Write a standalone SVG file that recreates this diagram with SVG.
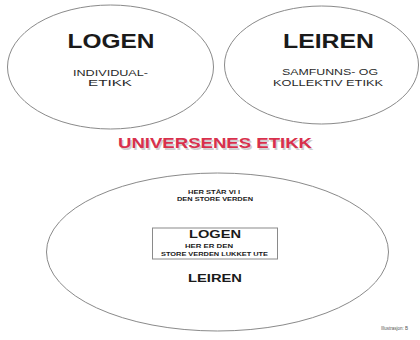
<svg xmlns="http://www.w3.org/2000/svg" width="420" height="340" viewBox="0 0 420 340">
<style>
.ell{fill:none;stroke:#8a8a8a;stroke-width:1}
.t{font-family:"Liberation Sans",Arial,sans-serif;font-weight:bold;fill:#1a1a1a;text-anchor:middle}
.s{font-family:"Liberation Sans",Arial,sans-serif;fill:#2a2a2a;text-anchor:middle}
.red{font-family:"Liberation Sans",Arial,sans-serif;font-weight:bold;fill:#d8304c;text-anchor:middle}
</style>
<rect width="420" height="340" fill="#ffffff"/>
<g id="logen">
<ellipse class="ell" cx="110.5" cy="67" rx="103" ry="62"/>
<text class="t" x="111" y="48" font-size="19.5" textLength="87" lengthAdjust="spacingAndGlyphs">LOGEN</text>
<text class="s" x="110.5" y="75.5" font-size="9.5" textLength="75" lengthAdjust="spacingAndGlyphs">INDIVIDUAL-</text>
<text class="s" x="110" y="86" font-size="9.5" textLength="44" lengthAdjust="spacingAndGlyphs">ETIKK</text>
</g>
<g id="leiren">
<ellipse class="ell" cx="321.5" cy="65" rx="97" ry="59"/>
<text class="t" x="328.5" y="48" font-size="19.5" textLength="91" lengthAdjust="spacingAndGlyphs">LEIREN</text>
<text class="s" x="330" y="74.5" font-size="9.5" textLength="96" lengthAdjust="spacingAndGlyphs">SAMFUNNS- OG</text>
<text class="s" x="328" y="86" font-size="9.5" textLength="110" lengthAdjust="spacingAndGlyphs">KOLLEKTIV ETIKK</text>
</g>
<g id="title">
<text class="red" x="216.5" y="149.5" font-size="14" textLength="194" lengthAdjust="spacingAndGlyphs" style="fill:#b0b0b0;opacity:0.6">UNIVERSENES ETIKK</text>
<text class="red" x="215" y="148" font-size="14" textLength="194" lengthAdjust="spacingAndGlyphs">UNIVERSENES ETIKK</text>
</g>
<g id="universet">
<ellipse class="ell" cx="217.5" cy="252" rx="171" ry="79"/>
<text class="t" x="214" y="194" font-size="5.5" textLength="52" lengthAdjust="spacingAndGlyphs">HER STÅR VI I</text>
<text class="t" x="215" y="200.5" font-size="5.5" textLength="76" lengthAdjust="spacingAndGlyphs">DEN STORE VERDEN</text>
</g>
<g id="logen-inner">
<rect x="152.5" y="228" width="125" height="31" fill="none" stroke="#8a8a8a" stroke-width="1"/>
<text class="t" x="215" y="238" font-size="11" textLength="52" lengthAdjust="spacingAndGlyphs">LOGEN</text>
<text class="t" x="209" y="248" font-size="5.5" textLength="48" lengthAdjust="spacingAndGlyphs">HER ER DEN</text>
<text class="t" x="214.5" y="256" font-size="5.5" textLength="107" lengthAdjust="spacingAndGlyphs">STORE VERDEN LUKKET UTE</text>
</g>
<g id="leiren-inner">
<text class="t" x="215" y="282" font-size="11" textLength="54" lengthAdjust="spacingAndGlyphs">LEIREN</text>
</g>
<g id="credit">
<text x="381" y="330" font-family="Liberation Sans,Arial,sans-serif" font-size="4.5" fill="#555">Illustrasjon: B</text>
</g>
</svg>
